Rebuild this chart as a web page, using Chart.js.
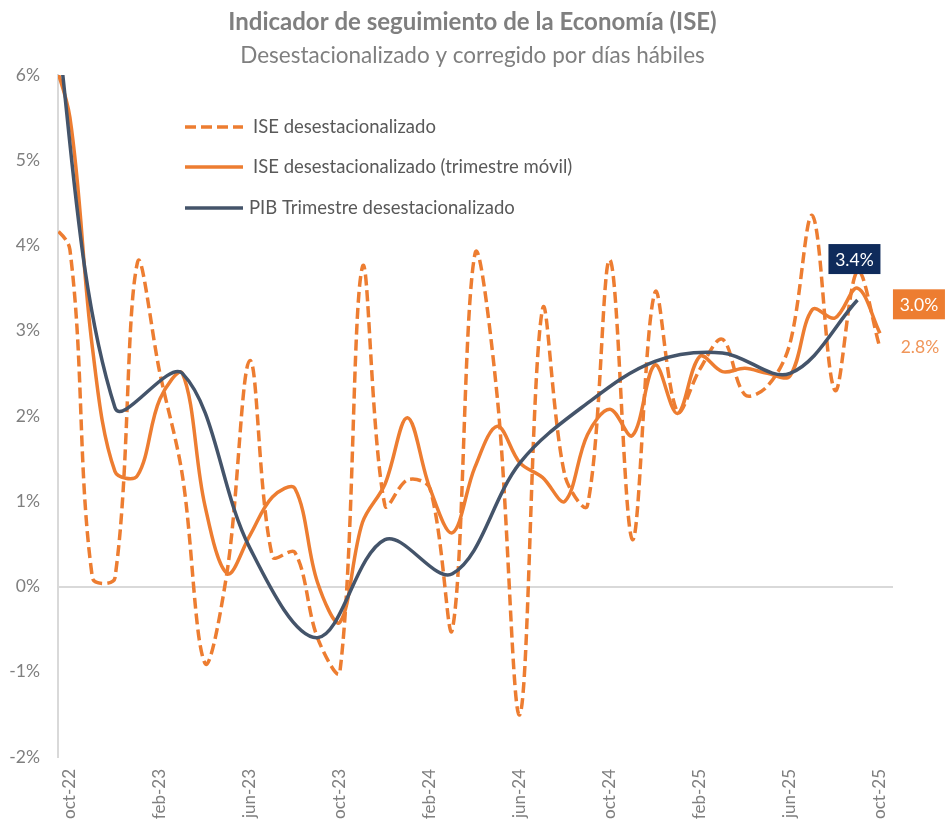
<!DOCTYPE html>
<html>
<head>
<meta charset="utf-8">
<script src="https://cdn.jsdelivr.net/npm/chart.js@4/dist/chart.umd.min.js"></script>
<style>
  html, body { margin: 0; padding: 0; background: #ffffff; }
  #wrap { width: 945px; height: 823px; position: relative; }
</style>
</head>
<body>
<div id="wrap"><canvas id="c" width="945" height="823"></canvas></div>
<script>
// ---------- DATA ----------
const titleText = 'Indicador de seguimiento de la Economía (ISE)';
const subtitleText = 'Desestacionalizado y corregido por días hábiles';

const months = [
  'sep-22','oct-22','nov-22','dic-22',
  'ene-23','feb-23','mar-23','abr-23','may-23','jun-23','jul-23','ago-23','sep-23','oct-23','nov-23','dic-23',
  'ene-24','feb-24','mar-24','abr-24','may-24','jun-24','jul-24','ago-24','sep-24','oct-24','nov-24','dic-24',
  'ene-25','feb-25','mar-25','abr-25','may-25','jun-25','jul-25','ago-25','sep-25','oct-25'
];

const tickLabels = ['oct-22','feb-23','jun-23','oct-23','feb-24','jun-24','oct-24','feb-25','jun-25','oct-25'];

const seriesNames = [
  'ISE desestacionalizado',
  'ISE desestacionalizado (trimestre móvil)',
  'PIB Trimestre desestacionalizado'
];

// ISE mensual (variación anual, %)
const iseMensual = [
  4.3, 3.95, 0.1, 0.1,
  3.8, 2.5, 1.3, -0.9, 0.2, 2.65, 0.35, 0.4, -0.6, -1.0, 3.75, 0.95,
  1.25, 1.15, -0.5, 3.9, 2.2, -1.5, 3.25, 1.3, 0.95, 3.83, 0.55, 3.45,
  2.05, 2.55, 2.9, 2.25, 2.35, 2.85, 4.35, 2.3, 3.7, 2.8
];

// ISE trimestre móvil (%)
const iseTrimMovil = [
  6.4, 5.5, 2.8, 1.35,
  1.3, 2.2, 2.5, 0.95, 0.15, 0.6, 1.05, 1.15, 0.05, -0.42, 0.75, 1.2,
  1.98, 1.15, 0.63, 1.4, 1.88, 1.45, 1.28, 1.0, 1.78, 2.08, 1.77, 2.6,
  2.03, 2.7, 2.52, 2.56, 2.5, 2.47, 3.25, 3.15, 3.5, 2.97
];

// PIB trimestral (%), en el último mes de cada trimestre
const pibTrimestral = [
  7.5, null, null, 2.1,
  null, null, 2.5, null, null, 0.45, null, null, -0.6, null, null, 0.55,
  null, null, 0.15, null, null, 1.45, null, null, 2.15, null, null, 2.64,
  null, null, 2.74, null, null, 2.5, null, null, 3.36, null
];

// ---------- BUILD ----------
const origin = months.indexOf(tickLabels[0]);
const tickValues = tickLabels.map(l => months.indexOf(l) - origin);
const toPoints = arr => arr.map((v, i) => ({ x: i - origin, y: v }));

const ORANGE = '#ED7D31';
const NAVY_LINE = '#44546A';
const FONT = 'Lato, "Open Sans", sans-serif';

const headerPlugin = {
  id: 'header',
  afterDraw(chart) {
    const ctx = chart.ctx;
    const cx = chart.width / 2;
    ctx.save();
    ctx.textAlign = 'center';
    ctx.textBaseline = 'middle';
    ctx.fillStyle = '#7f7f7f';
    ctx.font = 'bold 24px ' + FONT;
    ctx.fillText(titleText, cx, 22);
    ctx.font = '22.5px ' + FONT;
    ctx.fillText(subtitleText, cx, 56);
    ctx.restore();
  }
};

const legendPlugin = {
  id: 'customLegend',
  afterDraw(chart) {
    const ctx = chart.ctx;
    const rowsY = [127, 167, 208];
    const x0 = 185, x1 = 243, tx = 253;
    ctx.save();
    chart.data.datasets.forEach((ds, i) => {
      const y = rowsY[i];
      ctx.beginPath();
      ctx.lineWidth = ds.borderWidth;
      ctx.strokeStyle = ds.borderColor;
      ctx.setLineDash(ds.borderDash || []);
      ctx.lineCap = 'butt';
      ctx.moveTo(x0, y);
      ctx.lineTo(x1, y);
      ctx.stroke();
      ctx.setLineDash([]);
      ctx.fillStyle = '#595959';
      ctx.font = '18.5px ' + FONT;
      ctx.textBaseline = 'middle';
      ctx.textAlign = 'left';
      ctx.fillText(ds.label, tx + (i === 2 ? -4 : 0), y);
    });
    ctx.restore();
  }
};

function lastPoint(chart, dsIndex) {
  const meta = chart.getDatasetMeta(dsIndex);
  const data = chart.data.datasets[dsIndex].data;
  for (let i = data.length - 1; i >= 0; i--) {
    if (data[i].y !== null && data[i].y !== undefined) {
      return { el: meta.data[i], value: data[i].y };
    }
  }
  return null;
}

const endLabelsPlugin = {
  id: 'endLabels',
  afterDatasetsDraw(chart) {
    const ctx = chart.ctx;
    ctx.save();
    ctx.font = '17.5px ' + FONT;
    ctx.textAlign = 'center';
    ctx.textBaseline = 'middle';
    // PIB label (navy box)
    const p = lastPoint(chart, 2);
    if (p) {
      const cx = p.el.x - 3, cy = p.el.y - 41;
      ctx.fillStyle = '#0F2B5B';
      ctx.fillRect(cx - 26, cy - 15, 52, 30);
      ctx.fillStyle = '#ffffff';
      ctx.fillText(p.value.toFixed(1) + '%', cx, cy + 1);
    }
    // ISE trimestre móvil (orange box)
    const s = lastPoint(chart, 1);
    if (s) {
      const cx = s.el.x + 39, cy = s.el.y - 29;
      ctx.fillStyle = ORANGE;
      ctx.fillRect(cx - 26, cy - 15, 52, 30);
      ctx.fillStyle = '#ffffff';
      ctx.fillText(s.value.toFixed(1) + '%', cx, cy + 1);
    }
    // ISE mensual (text)
    const d = lastPoint(chart, 0);
    if (d) {
      ctx.fillStyle = '#F0965A';
      ctx.fillText(d.value.toFixed(1) + '%', d.el.x + 40, d.el.y);
    }
    ctx.restore();
  }
};

new Chart(document.getElementById('c'), {
  type: 'line',
  data: {
    datasets: [
      {
        label: seriesNames[0],
        data: toPoints(iseMensual),
        borderColor: ORANGE,
        borderWidth: 3.5,
        borderDash: [11, 5],
        pointRadius: 0,
        tension: 0.35,
        clip: 0,
        order: 3
      },
      {
        label: seriesNames[1],
        data: toPoints(iseTrimMovil),
        borderColor: ORANGE,
        borderWidth: 3.5,
        pointRadius: 0,
        tension: 0.35,
        clip: 0,
        order: 2
      },
      {
        label: seriesNames[2],
        data: toPoints(pibTrimestral),
        borderColor: NAVY_LINE,
        borderWidth: 3.5,
        pointRadius: 0,
        tension: 0.35,
        spanGaps: true,
        clip: 0,
        order: 1
      }
    ]
  },
  options: {
    responsive: false,
    animation: false,
    devicePixelRatio: 1,
    layout: { padding: { left: 0, right: 52, top: 75, bottom: 0 } },
    plugins: {
      legend: { display: false },
      tooltip: { enabled: false },
      title: { display: false },
      subtitle: { display: false }
    },
    scales: {
      x: {
        type: 'linear',
        min: -0.53,
        max: 36.58,
        afterBuildTicks: s => { s.ticks = tickValues.map(v => ({ value: v })); },
        afterFit: s => { s.height = 66; },
        grid: { display: false, drawTicks: false },
        border: { display: false },
        ticks: {
          autoSkip: false,
          maxRotation: 90,
          minRotation: 90,
          padding: 12,
          color: '#7f7f7f',
          font: { family: FONT, size: 17 },
          callback: (v, i) => tickLabels[i]
        }
      },
      y: {
        min: -2,
        max: 6,
        afterFit: s => { s.width = 58; },
        grid: {
          drawTicks: false,
          lineWidth: 2,
          color: c => (c.tick && c.tick.value === 0) ? '#d9d9d9' : 'rgba(0,0,0,0)'
        },
        border: { display: true, color: '#d9d9d9', width: 2 },
        ticks: {
          stepSize: 1,
          padding: 18,
          color: '#7f7f7f',
          font: { family: FONT, size: 17.5 },
          callback: v => v + '%'
        }
      }
    }
  },
  plugins: [headerPlugin, legendPlugin, endLabelsPlugin]
});
</script>
</body>
</html>
